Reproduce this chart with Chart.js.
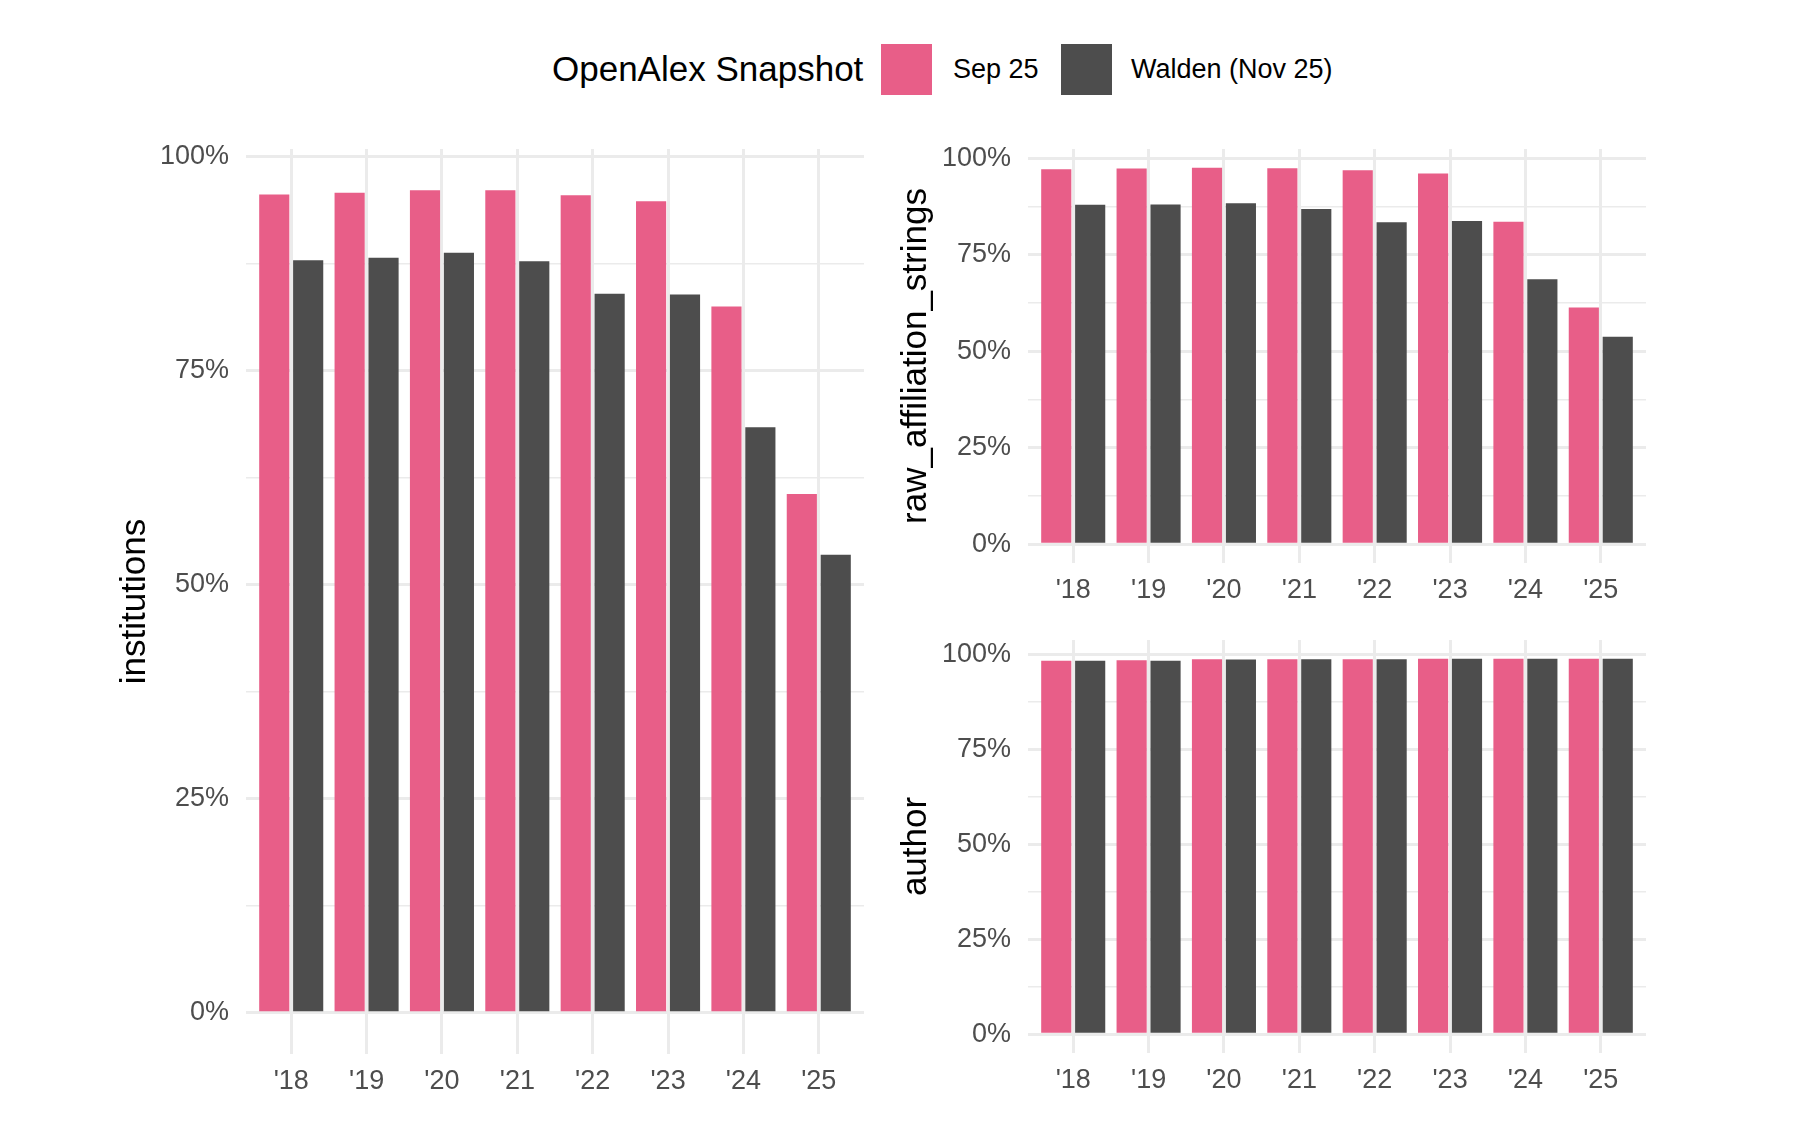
<!DOCTYPE html>
<html>
<head>
<meta charset="utf-8">
<title>OpenAlex Snapshot coverage</title>
<script src="https://cdn.jsdelivr.net/npm/chart.js@4.4.1/dist/chart.umd.min.js"></script>
<style>
  html, body { margin: 0; padding: 0; background: #ffffff; }
  body {
    width: 1794px; height: 1130px; position: relative; overflow: hidden;
    font-family: 'Liberation Sans', Arial, sans-serif;
  }
  canvas { position: absolute; }
  .legend-title, .legend-label {
    position: absolute; top: 69px; transform: translateY(-50%);
    white-space: nowrap; color: #000000;
  }
  .legend-title { left: 552px; font-size: 35px; }
  .legend-label { font-size: 27px; }
  .swatch { position: absolute; top: 44px; width: 51px; height: 51px; }
</style>
</head>
<body>

<div class="legend-title">OpenAlex Snapshot</div>
<div class="swatch" style="left:881px; background:#E85E88;"></div>
<div class="legend-label" style="left:953px;">Sep 25</div>
<div class="swatch" style="left:1061px; background:#4D4D4D;"></div>
<div class="legend-label" style="left:1131px;">Walden (Nov 25)</div>

<!-- canvases start 20px above their plot areas to leave room for the top tick label -->
<canvas id="institutions" width="764" height="985" style="left:100px; top:129px;"></canvas>
<canvas id="raw" width="756" height="494" style="left:890px; top:129px;"></canvas>
<canvas id="author" width="756" height="493" style="left:890px; top:620px;"></canvas>

<script>
// categories and series (percent of works)
const years = ["'18", "'19", "'20", "'21", "'22", "'23", "'24", "'25"];
const seriesNames = ['Sep 25', 'Walden (Nov 25)'];

const institutionsSep    = [95.6, 95.8, 96.1, 96.1, 95.5, 94.8, 82.5, 60.6];
const institutionsWalden = [87.9, 88.2, 88.8, 87.8, 84.0, 83.9, 68.4, 53.5];

const rawSep    = [97.2, 97.4, 97.6, 97.5, 97.0, 96.1, 83.6, 61.4];
const rawWalden = [88.0, 88.1, 88.4, 86.9, 83.5, 83.8, 68.7, 53.8];

const authorSep    = [98.4, 98.5, 98.8, 98.8, 98.8, 98.9, 98.9, 98.9];
const authorWalden = [98.4, 98.4, 98.7, 98.8, 98.8, 98.9, 98.9, 98.9];

// y ticks: labelled majors plus unlabelled minor gridlines
const yMajorTicks = [0, 25, 50, 75, 100];
const yMinorTicks = [12.5, 37.5, 62.5, 87.5];

const SEP_COLOR = '#E85E88';
const WALDEN_COLOR = '#4D4D4D';
const GRID = '#EBEBEB';
const TICK_COLOR = '#4D4D4D';
const FONT = "'Liberation Sans', Arial, sans-serif";
const X_AXIS_H = 60;
const TOP_PAD = 20;

function makePanel(id, title, sepValues, waldenValues, axisWidth, titlePad) {
    // ggplot style: expand the data range by 5% on both sides
    const top = Math.max(...sepValues, ...waldenValues);
    const yTicks = yMajorTicks.concat(yMinorTicks).sort((a, b) => a - b);

    return new Chart(document.getElementById(id), {
        type: 'bar',
        data: {
            datasets: [
                {
                    label: seriesNames[0],
                    data: sepValues.map((v, i) => ({ x: i, y: v })),
                    backgroundColor: SEP_COLOR
                },
                {
                    label: seriesNames[1],
                    data: waldenValues.map((v, i) => ({ x: i, y: v })),
                    backgroundColor: WALDEN_COLOR
                }
            ]
        },
        options: {
            responsive: false,
            animation: false,
            categoryPercentage: 0.9,
            barPercentage: 0.8 / 0.9,
            layout: { padding: { top: TOP_PAD, left: 0, right: 0, bottom: 0 } },
            plugins: {
                legend: { display: false },
                tooltip: { enabled: false }
            },
            scales: {
                x: {
                    type: 'linear',
                    min: -0.6,
                    max: years.length - 0.4,
                    offset: false,
                    afterBuildTicks: (s) => { s.ticks = years.map((_, i) => ({ value: i })); },
                    afterFit: (s) => { s.height = X_AXIS_H; s.paddingLeft = 0; s.paddingRight = 0; },
                    grid: { color: GRID, lineWidth: 3, drawTicks: false, offset: false },
                    border: { display: false },
                    ticks: {
                        color: TICK_COLOR,
                        font: { family: FONT, size: 27 },
                        padding: 11,
                        maxRotation: 0,
                        autoSkip: false,
                        callback: (value) => years[value]
                    }
                },
                y: {
                    min: -0.05 * top,
                    max: 1.05 * top,
                    afterBuildTicks: (s) => { s.ticks = yTicks.map(v => ({ value: v })); },
                    afterFit: (s) => { s.width = axisWidth; s.paddingTop = 0; s.paddingBottom = 0; },
                    grid: {
                        color: GRID,
                        lineWidth: (ctx) => (ctx.tick && ctx.tick.value % 25 === 0) ? 3 : 1.5,
                        drawTicks: false
                    },
                    border: { display: false },
                    ticks: {
                        color: TICK_COLOR,
                        font: { family: FONT, size: 27 },
                        padding: 17,
                        callback: (value) => (value % 25 === 0 ? value + '%' : '')
                    },
                    title: {
                        display: true,
                        text: title,
                        color: '#000000',
                        font: { family: FONT, size: 35 },
                        padding: { top: titlePad, bottom: 0 }
                    }
                }
            }
        }
    });
}

makePanel('institutions', 'institutions', institutionsSep, institutionsWalden, 146, 14);
makePanel('raw', 'raw_affiliation_strings', rawSep, rawWalden, 138, 5);
makePanel('author', 'author', authorSep, authorWalden, 138, 5);
</script>
</body>
</html>
